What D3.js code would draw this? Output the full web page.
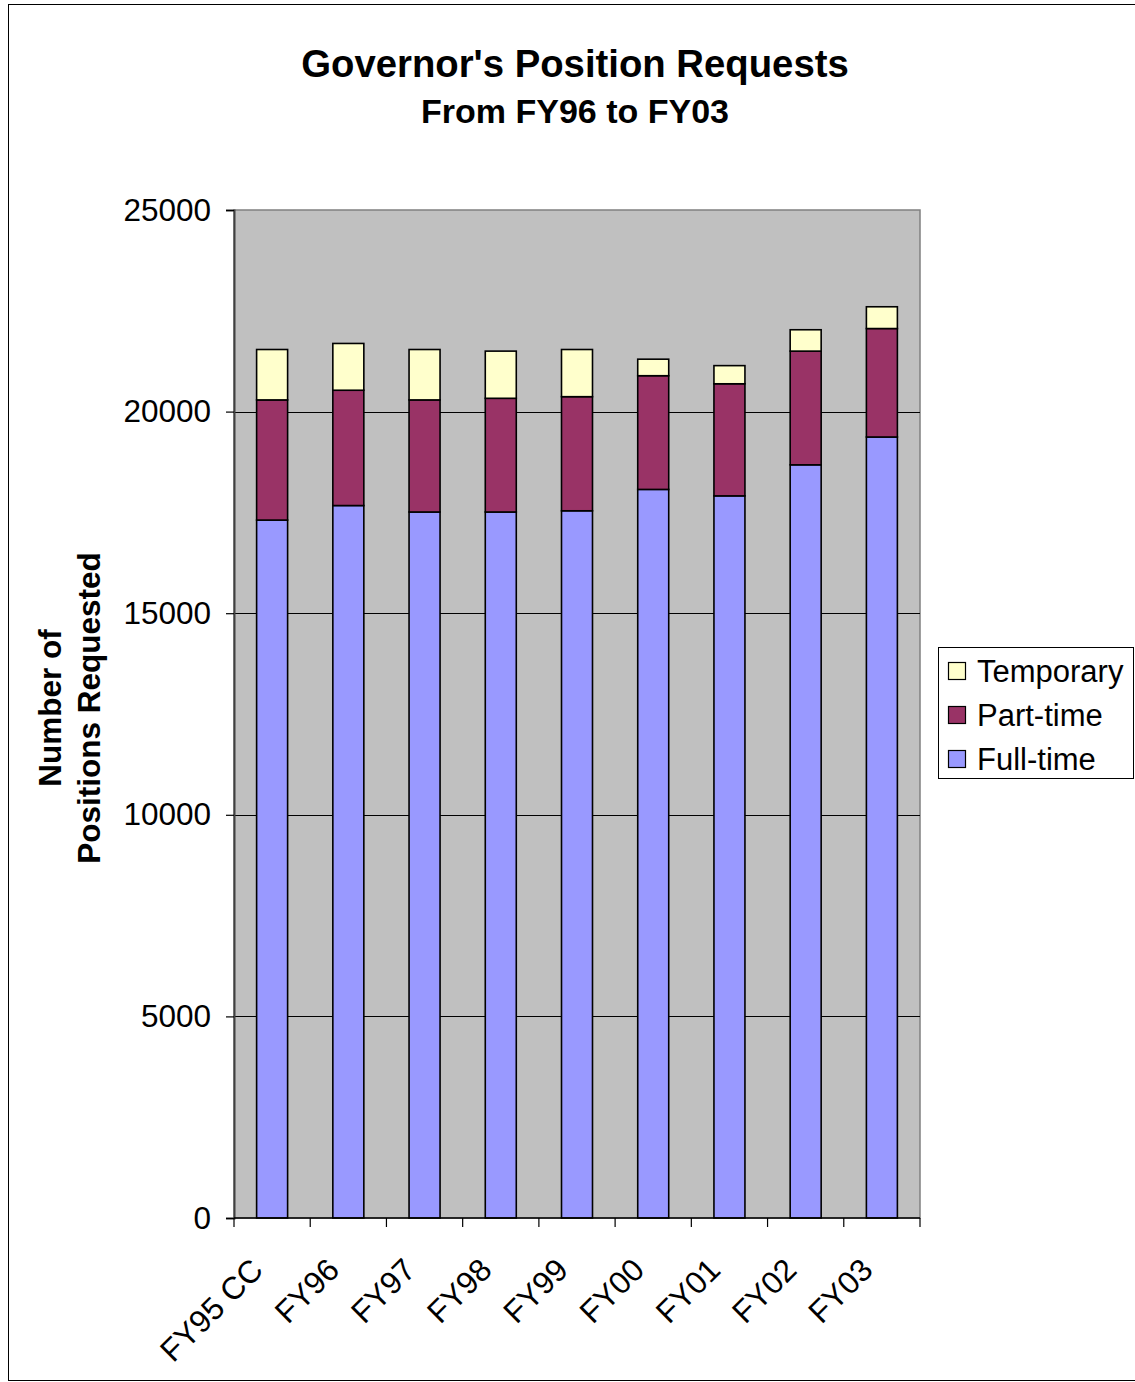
<!DOCTYPE html>
<html>
<head>
<meta charset="utf-8">
<script src="https://cdn.jsdelivr.net/npm/d3@7"></script>
<style>
  html, body { margin: 0; padding: 0; background: #fff; }
  svg { display: block; font-family: "Liberation Sans", Arial, sans-serif; }
</style>
</head>
<body>
<svg id="chart" width="1135" height="1382"></svg>
<script>
// Fiscal years shown on the category axis
const categories = ["FY95 CC", "FY96", "FY97", "FY98", "FY99", "FY00", "FY01", "FY02", "FY03"];

// Positions requested per year, by position type
const fullTime  = [17310, 17670, 17510, 17510, 17540, 18070, 17910, 18680, 19370];
const partTime  = [2980, 2860, 2780, 2820, 2830, 2820, 2780, 2820, 2690];
const temporary = [1250, 1160, 1250, 1170, 1170, 410, 450, 530, 540];

const seriesNames = ["Full-time", "Part-time", "Temporary"];
const yTicks = [0, 5000, 10000, 15000, 20000, 25000];

const colors = { "Full-time": "#9999FF", "Part-time": "#993366", "Temporary": "#FFFFCC" };

const rows = categories.map((c, i) => ({
  year: c,
  "Full-time": fullTime[i],
  "Part-time": partTime[i],
  "Temporary": temporary[i]
}));

const svg = d3.select("#chart");

// Outer chart frame
svg.append("rect")
  .attr("x", 8.5).attr("y", 4.5)
  .attr("width", 1140).attr("height", 1376)
  .attr("fill", "#fff").attr("stroke", "#000").attr("stroke-width", 1);

const plot = { left: 234, right: 920, top: 210, bottom: 1218 };

const x = d3.scaleBand().domain(categories).range([plot.left, plot.right]).paddingInner(0).paddingOuter(0);
const y = d3.scaleLinear().domain([0, 25000]).range([plot.bottom, plot.top]);

// Plot background
svg.append("rect")
  .attr("x", plot.left).attr("y", plot.top)
  .attr("width", plot.right - plot.left).attr("height", plot.bottom - plot.top)
  .attr("fill", "#C0C0C0").attr("stroke", "#808080").attr("stroke-width", 1.5);

// Horizontal gridlines
svg.append("g").selectAll("line")
  .data(yTicks.filter(t => t > 0 && t < 25000))
  .join("line")
  .attr("x1", plot.left).attr("x2", plot.right)
  .attr("y1", d => Math.round(y(d)) + 0.5).attr("y2", d => Math.round(y(d)) + 0.5)
  .attr("stroke", "#000").attr("stroke-width", 1);

// Stacked bars
const stack = d3.stack().keys(seriesNames);
const layers = stack(rows);
const barW = 31;

svg.append("g").selectAll("g")
  .data(layers)
  .join("g")
  .attr("fill", d => colors[d.key])
  .selectAll("rect")
  .data(d => d)
  .join("rect")
  .attr("x", d => x(d.data.year) + x.bandwidth() / 2 - barW / 2)
  .attr("y", d => y(d[1]))
  .attr("width", barW)
  .attr("height", d => y(d[0]) - y(d[1]))
  .attr("stroke", "#000").attr("stroke-width", 1.6);

// Y axis
const yAxis = d3.axisLeft(y).tickValues(yTicks).tickSize(8).tickPadding(15).tickFormat(d3.format("d"));
const gy = svg.append("g").attr("transform", `translate(${plot.left},0)`).call(yAxis);
gy.select(".domain").attr("stroke", "#404040").attr("stroke-width", 2);
gy.selectAll(".tick line").attr("stroke", "#000").attr("stroke-width", 1.2);
gy.selectAll(".tick text").attr("font-size", 31.5).attr("fill", "#000")
  .attr("font-family", "Liberation Sans, Arial, sans-serif");

// X axis: ticks at band boundaries
const gx = svg.append("g");
gx.append("line")
  .attr("x1", plot.left).attr("x2", plot.right)
  .attr("y1", plot.bottom).attr("y2", plot.bottom)
  .attr("stroke", "#000").attr("stroke-width", 1.5);
const boundaries = categories.map(c => x(c)).concat([plot.right]);
gx.selectAll("line.tk")
  .data(boundaries)
  .join("line").attr("class", "tk")
  .attr("x1", d => d).attr("x2", d => d)
  .attr("y1", plot.bottom).attr("y2", plot.bottom + 9)
  .attr("stroke", "#000").attr("stroke-width", 1.2);

gx.selectAll("text")
  .data(categories)
  .join("text")
  .attr("transform", d => `translate(${x(d) + x.bandwidth() / 2 - 23},${plot.bottom + 38}) rotate(-45)`)
  .attr("text-anchor", "end")
  .attr("dy", "0.71em")
  .attr("font-size", 31.5)
  .attr("fill", "#000")
  .text(d => d);

// Titles
svg.append("text")
  .attr("x", 575).attr("y", 77)
  .attr("text-anchor", "middle").attr("font-weight", "bold").attr("font-size", 38.3)
  .text("Governor's Position Requests");
svg.append("text")
  .attr("x", 575).attr("y", 123)
  .attr("text-anchor", "middle").attr("font-weight", "bold").attr("font-size", 34)
  .text("From FY96 to FY03");

// Y axis title (two lines)
const yTitle = svg.append("text")
  .attr("transform", "translate(61,708) rotate(-90)")
  .attr("text-anchor", "middle").attr("font-weight", "bold").attr("font-size", 31.5);
yTitle.append("tspan").attr("x", 0).attr("dy", 0).text("Number of");
yTitle.append("tspan").attr("x", 0).attr("dy", 39).text("Positions Requested");

// Legend
const legend = svg.append("g");
legend.append("rect")
  .attr("x", 938.5).attr("y", 647.5).attr("width", 195).attr("height", 131)
  .attr("fill", "#fff").attr("stroke", "#000").attr("stroke-width", 1);
const legendOrder = ["Temporary", "Part-time", "Full-time"];
const li = legend.selectAll("g.item")
  .data(legendOrder)
  .join("g").attr("class", "item")
  .attr("transform", (d, i) => `translate(948,${671 + i * 44})`);
li.append("rect")
  .attr("x", 0.5).attr("y", -8.5).attr("width", 17).attr("height", 17)
  .attr("fill", d => colors[d]).attr("stroke", "#000").attr("stroke-width", 1.2);
li.append("text")
  .attr("x", 29).attr("y", 0).attr("dy", "0.36em")
  .attr("font-size", 31).attr("fill", "#000")
  .text(d => d);
</script>
</body>
</html>
